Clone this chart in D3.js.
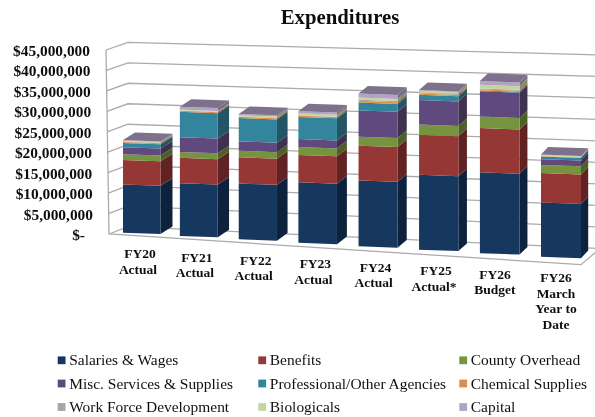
<!DOCTYPE html>
<html><head><meta charset="utf-8">
<script src="https://cdn.jsdelivr.net/npm/d3@7/dist/d3.min.js"></script>
<style>html,body{margin:0;padding:0;background:#fff}svg{display:block}
text{font-family:"Liberation Serif","Times New Roman",serif;fill:#111}</style></head>
<body><svg id="c" width="595" height="417"></svg>
<script>
const categories=[["FY20","Actual"],["FY21","Actual"],["FY22","Actual"],["FY23","Actual"],["FY24","Actual"],["FY25","Actual*"],["FY26","Budget"],["FY26","March","Year to","Date"]];
const seriesNames=["Salaries & Wages","Benefits","County Overhead","Misc. Services & Supplies","Professional/Other Agencies","Chemical Supplies","Work Force Development","Biologicals","Capital"];
const seriesColors=["#17375E","#953735","#76933C","#604A7B","#31859C","#E38B45","#A6A6A6","#C3D69B","#B3A2C7"];
const salaries=[11.8,12.9,13.66,14.8,16.1,18.3,19.8,13.25];
const benefits=[6.0,6.2,6.4,6.67,8.5,9.8,10.8,7.2];
const overhead=[1.4,1.45,1.6,1.95,2.2,2.5,2.8,2.0];
const misc=[1.7,3.6,2.3,1.95,6.4,6.0,6.2,1.4];
const professional=[1.05,6.2,5.7,5.4,1.95,1.3,0.2,0.65];
const chemical=[0.25,0.25,0.3,0.3,0.4,0.3,0.25,0.1];
const workforce=[0.1,0.1,0.1,0.1,0.3,0.2,0.25,0.05];
const biologicals=[0.2,0.2,0.3,0.5,0.5,0.45,0.9,0.2];
const capital=[0.15,0.7,0.3,0.5,1.0,0.2,0.9,0.15];
const tickValues=[0,5,10,15,20,25,30,35,40,45];
const tickLabels=["$-","$5,000,000","$10,000,000","$15,000,000","$20,000,000","$25,000,000","$30,000,000","$35,000,000","$40,000,000","$45,000,000"];

const allSeries=[salaries,benefits,overhead,misc,professional,chemical,workforce,biologicals,capital];
const rows=categories.map((c,i)=>{const r={i};allSeries.forEach((s,k)=>r[k]=s[i]);return r;});
const stacked=d3.stack().keys(seriesNames.map((_,k)=>k))(rows);

const svg=d3.select("#c");
const defs=svg.append("defs");
const soft=defs.append("filter").attr("id","soft").attr("x","-5%").attr("y","-5%").attr("width","110%").attr("height","110%");
soft.append("feGaussianBlur").attr("stdDeviation",0.45);
const softText=defs.append("filter").attr("id","softText").attr("filterUnits","userSpaceOnUse").attr("x",0).attr("y",0).attr("width",595).attr("height",417);
softText.append("feGaussianBlur").attr("stdDeviation",0.3);
const marks=svg.append("g").attr("filter","url(#soft)");
const labels=svg.append("g").attr("filter","url(#softText)");

// Scales
const height=d3.scaleLinear().domain([0,45]).range([0,184]);
const x=d3.scalePow().exponent(1.025).domain([0,7]).range([123,541]);
const width=d3.scaleLinear().domain([0,7]).range([37.5,40]);
const floorY=d3.scaleLinear().domain([123,541]).range([232.7,256.7]);
const depthX=d3.scaleLinear().domain([0,7]).range([12,7.2]);
const depthY=7.6, tilt=0.036;

// Walls: value to position on the front edge, back corner and far right
const frontEdgeX=d3.scaleLinear().domain([0,45]).range([109,106]);
const frontEdgeY=d3.scaleLinear().domain([0,45]).range([234,50]);
const backY=d3.scaleLinear().domain([0,45]).range([226.7,42.3]);
const rightY=d3.scaleLinear().domain([0,45]).range([248.5,55]);
const backX=128, rightX=600;
const wall=marks.append("g").attr("fill","none").attr("stroke","#ABABAB").attr("stroke-width",1.3);
wall.selectAll("path.grid").data(tickValues).join("path").attr("class","grid")
  .attr("d",v=>`M${frontEdgeX(v)},${frontEdgeY(v)}L${backX},${backY(v)}L${rightX},${rightY(v)}`);
wall.append("path").attr("d",`M${frontEdgeX(45)},${frontEdgeY(45)}L${frontEdgeX(0)},${frontEdgeY(0)}L581,264.7L${rightX},${rightY(0)}`);

// Bars
const poly=p=>"M"+p.map(q=>q.join(",")).join("L")+"Z";
const bars=marks.selectAll("g.bar").data(categories.map((_,i)=>i)).join("g").attr("class","bar");
bars.each(function(i){
  const g=d3.select(this), x0=x(i), w=width(i), dx=depthX(i), x1=x0+w;
  const base=floorY(x0);
  const yL=v=>base-height(v), yR=v=>base+w*tilt-height(v);
  stacked.forEach((s,k)=>{
    const [a,b]=s[i], c=seriesColors[k];
    g.append("path").attr("fill",d3.color(c).darker(1.2))
      .attr("d",poly([[x1,yR(a)],[x1+dx,yR(a)-depthY],[x1+dx,yR(b)-depthY],[x1,yR(b)]]));
    g.append("path").attr("fill",c)
      .attr("d",poly([[x0,yL(a)],[x1,yR(a)],[x1,yR(b)],[x0,yL(b)]]));
  });
  const top=stacked[stacked.length-1][i][1];
  g.append("path").attr("fill",d3.color(seriesColors[8]).darker(1))
    .attr("d",poly([[x0,yL(top)],[x1,yR(top)],[x1+dx,yR(top)-depthY],[x0+dx,yL(top)-depthY]]));
});

// Title
labels.append("text").attr("x",340).attr("y",24).attr("text-anchor","middle")
  .attr("font-size",20.8).attr("font-weight","bold").text("Expenditures");

// Value axis labels
const labelY=d3.scaleLinear().domain([0,45]).range([235,50.7]);
const labelX=d3.scaleLinear().domain([5,45]).range([93,90]);
labels.selectAll("text.yl").data(tickValues).join("text").attr("class","yl")
  .attr("x",v=>v===0?85:labelX(v)).attr("y",v=>labelY(v)).attr("dy","0.33em")
  .attr("text-anchor","end").attr("font-size",15.4).attr("font-weight","bold")
  .text((v,i)=>tickLabels[i]);

// Category labels
const labelTop=d3.scaleLinear().domain([123,541]).range([258.3,282]);
categories.forEach((lines,i)=>{
  const t=labels.append("text").attr("font-size",13.5).attr("font-weight","bold").attr("text-anchor","middle");
  lines.forEach((l,j)=>t.append("tspan")
    .attr("x",x(i)+15+(j===0&&lines[1].startsWith("Actual")?2:0))
    .attr("y",labelTop(x(i))+j*(lines.length>2?15.7:15.5)).text(l));
});

// Legend
const legendX=d3.scaleOrdinal().domain([0,1,2]).range([57.7,258.3,459.3]);
const legendY=d3.scaleOrdinal().domain([0,1,2]).range([360.3,383.5,407]);
const lg=labels.selectAll("g.lg").data(seriesNames).join("g").attr("class","lg")
  .attr("transform",(d,i)=>`translate(${legendX(i%3)},${legendY(Math.floor(i/3))})`);
lg.append("rect").attr("y",-3.9).attr("width",7.8).attr("height",7.8).attr("fill",(d,i)=>seriesColors[i]);
lg.append("text").attr("x",11.5).attr("dy","0.33em").attr("font-size",15.45).text(d=>d);
</script></body></html>
